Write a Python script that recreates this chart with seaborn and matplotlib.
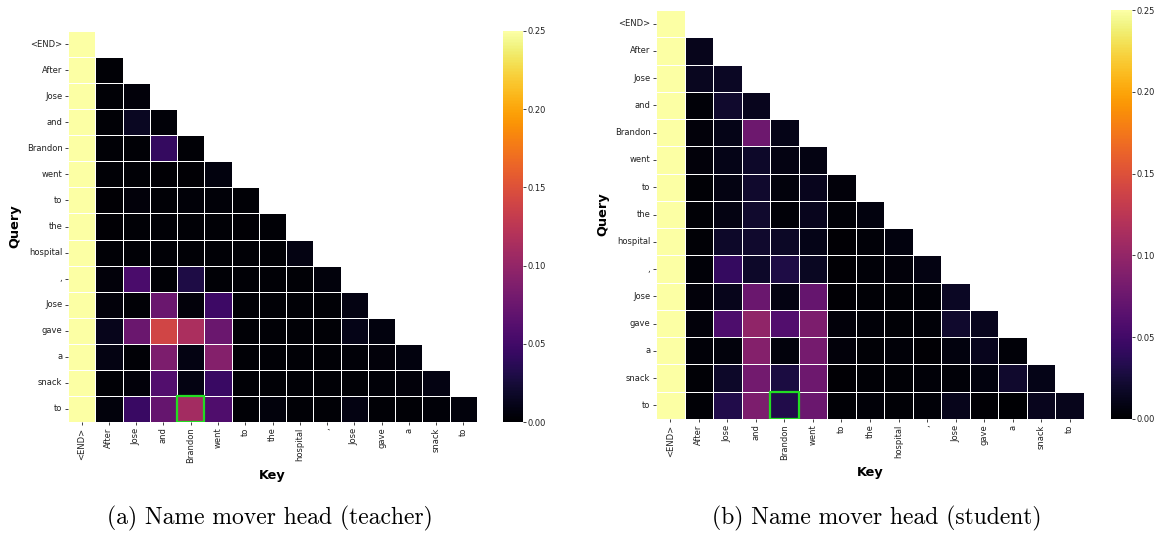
import matplotlib
matplotlib.use("Agg")
import matplotlib.pyplot as plt
import numpy as np
import seaborn as sns
from matplotlib.patches import Rectangle

# tokens of the prompt (query = key)
tokens = ['<END>', 'After', 'Jose', 'and', 'Brandon', 'went', 'to', 'the',
          'hospital', ',', 'Jose', 'gave', 'a', 'snack', 'to']

# lower-triangular attention rows (row i has i+1 entries)
teacher_rows = [
    [1.00],
    [0.99, 0.002],
    [0.98, 0.002, 0.004],
    [0.95, 0.002, 0.015, 0.003],
    [0.92, 0.002, 0.002, 0.042, 0.002],
    [0.95, 0.002, 0.002, 0.001, 0.001, 0.006],
    [0.95, 0.001, 0.004, 0.002, 0.003, 0.003, 0.002],
    [0.96, 0.001, 0.002, 0.002, 0.002, 0.002, 0.001, 0.002],
    [0.95, 0.002, 0.002, 0.002, 0.002, 0.002, 0.002, 0.002, 0.008],
    [0.88, 0.004, 0.055, 0.002, 0.030, 0.002, 0.002, 0.002, 0.002, 0.005],
    [0.82, 0.004, 0.002, 0.075, 0.004, 0.047, 0.002, 0.002, 0.002, 0.002, 0.008],
    [0.55, 0.012, 0.075, 0.140, 0.115, 0.075, 0.002, 0.002, 0.002, 0.002, 0.010, 0.006],
    [0.78, 0.008, 0.002, 0.085, 0.008, 0.090, 0.002, 0.002, 0.002, 0.002, 0.003, 0.004, 0.006],
    [0.84, 0.002, 0.004, 0.060, 0.008, 0.045, 0.002, 0.002, 0.002, 0.002, 0.002, 0.003, 0.004, 0.008],
    [0.70, 0.005, 0.045, 0.072, 0.110, 0.058, 0.002, 0.005, 0.002, 0.002, 0.008, 0.002, 0.002, 0.003, 0.005],
]

student_rows = [
    [1.00],
    [0.99, 0.012],
    [0.97, 0.014, 0.016],
    [0.96, 0.003, 0.020, 0.013],
    [0.90, 0.004, 0.010, 0.077, 0.010],
    [0.95, 0.004, 0.010, 0.018, 0.008, 0.008],
    [0.94, 0.002, 0.008, 0.020, 0.005, 0.013, 0.004],
    [0.94, 0.002, 0.008, 0.020, 0.003, 0.013, 0.003, 0.006],
    [0.92, 0.002, 0.018, 0.020, 0.017, 0.010, 0.001, 0.003, 0.006],
    [0.88, 0.003, 0.042, 0.018, 0.030, 0.015, 0.001, 0.003, 0.004, 0.008],
    [0.81, 0.004, 0.012, 0.075, 0.008, 0.072, 0.001, 0.002, 0.002, 0.003, 0.016],
    [0.65, 0.004, 0.057, 0.098, 0.060, 0.085, 0.004, 0.003, 0.002, 0.003, 0.020, 0.013],
    [0.78, 0.003, 0.005, 0.090, 0.005, 0.082, 0.004, 0.002, 0.003, 0.001, 0.006, 0.013, 0.003],
    [0.75, 0.002, 0.018, 0.080, 0.028, 0.077, 0.001, 0.002, 0.002, 0.003, 0.003, 0.006, 0.020, 0.010],
    [0.72, 0.002, 0.032, 0.085, 0.032, 0.075, 0.002, 0.003, 0.002, 0.003, 0.012, 0.001, 0.000, 0.013, 0.012],
]

highlight_row = 14          # last "to" query
highlight_col = 4           # "Brandon" key
captions = ['(a) Name mover head (teacher)', '(b) Name mover head (student)']


def to_matrix(rows):
    n = len(rows)
    m = np.full((n, n), np.nan)
    for i, r in enumerate(rows):
        m[i, :len(r)] = r
    return m


plt.rcParams['text.color'] = '#222222'
plt.rcParams['xtick.color'] = '#222222'
plt.rcParams['ytick.color'] = '#222222'
plt.rcParams['axes.labelcolor'] = 'black'

fig = plt.figure(figsize=(11.65, 5.33), dpi=100)

W, H = 1165, 533
# pixel boxes: heatmap (x0, y0, x1, y1) and colorbar (x0, x1)
boxes = [((68, 31, 477, 422), (503, 523)),
         ((656, 10, 1084, 419), (1111, 1132))]
cap_x = [270, 877]

for k, (rows, (hb, cb)) in enumerate(zip([teacher_rows, student_rows], boxes)):
    x0, y0, x1, y1 = hb
    ax = fig.add_axes([x0 / W, (H - y1) / H, (x1 - x0) / W, (y1 - y0) / H])
    cax = fig.add_axes([cb[0] / W, (H - y1) / H, (cb[1] - cb[0]) / W, (y1 - y0) / H])
    mat = to_matrix(rows)
    sns.heatmap(mat, ax=ax, cbar_ax=cax, cmap='inferno', vmin=0, vmax=0.25,
                linewidths=0.6, linecolor='white',
                xticklabels=tokens, yticklabels=tokens,
                cbar_kws={'ticks': [0, 0.05, 0.1, 0.15, 0.2, 0.25], 'format': '%.2f'})
    ax.tick_params(axis='both', labelsize=6, length=2.5, width=0.6, pad=1.5)
    ax.set_xticklabels(tokens, rotation=90)
    ax.set_yticklabels(tokens, rotation=0)
    ax.set_xlabel('Key', fontsize=9.3, fontweight='bold')
    ax.set_ylabel('Query', fontsize=9.3, fontweight='bold')
    cax.tick_params(labelsize=6, length=2, width=0.6, pad=1.5)

    ax.add_patch(Rectangle((highlight_col, highlight_row), 1, 1, fill=False,
                           edgecolor='#22dd22', lw=1.6, zorder=5))

    fig.text(cap_x[k] / W, (H - 518) / H, captions[k], ha='center', va='center',
             fontsize=17, family='cmr10', color='black')

plt.savefig('out.png', dpi=100)
plt.close()
